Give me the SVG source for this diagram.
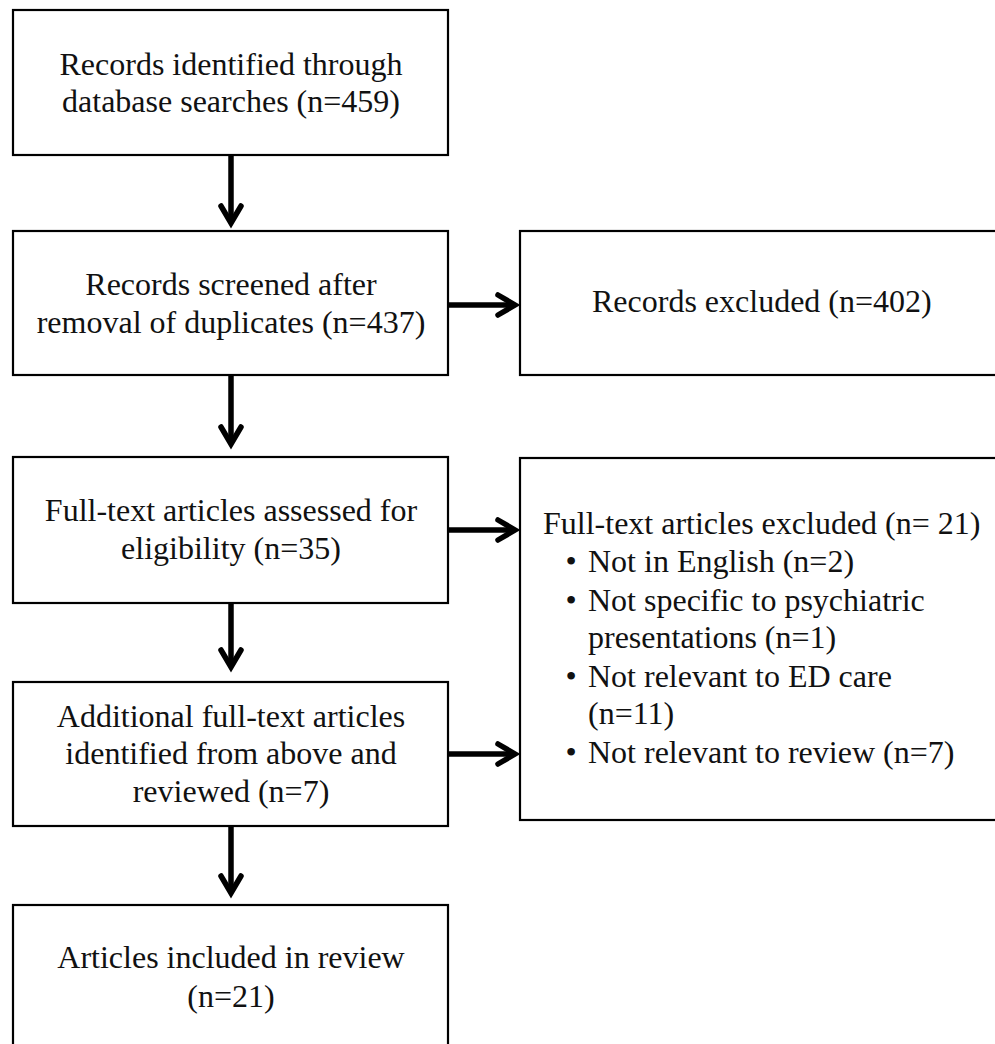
<svg xmlns="http://www.w3.org/2000/svg" width="995" height="1044" viewBox="0 0 995 1044">
  <style>
    .box { fill: #ffffff; stroke: #000000; stroke-width: 2.2; }
    .t { font-family: "Liberation Serif", "Times New Roman", serif; font-size: 32px; fill: #111111; }
    .c { text-anchor: middle; }
    .b { text-anchor: middle; }
    .con { fill: none; stroke: #000000; stroke-width: 5.5; marker-end: url(#chev); }
  </style>
  <defs>
    <marker id="chev" markerUnits="userSpaceOnUse" orient="auto" viewBox="-25 -20 40 40" refX="0" refY="0" markerWidth="40" markerHeight="40" overflow="visible">
      <path d="M-17,-10 L0,0 L-17,10" fill="none" stroke="#000000" stroke-width="5.5" stroke-linecap="round" stroke-linejoin="miter"/>
    </marker>
  </defs>
  <rect width="995" height="1044" fill="#ffffff"/>

  <g id="connectors">
    <line class="con" x1="231" y1="155" x2="231" y2="223"/>
    <line class="con" x1="448" y1="305" x2="515" y2="305"/>
    <line class="con" x1="231" y1="375" x2="231" y2="444"/>
    <line class="con" x1="448" y1="530" x2="515" y2="530"/>
    <line class="con" x1="231" y1="603" x2="231" y2="667"/>
    <line class="con" x1="448" y1="754" x2="515" y2="754"/>
    <line class="con" x1="231" y1="826" x2="231" y2="893"/>
  </g>

  <g id="n1">
    <rect class="box" x="13" y="10" width="435" height="145"/>
    <text class="t c" x="231" y="75">Records identified through</text>
    <text class="t c" x="231" y="112">database searches (n=459)</text>
  </g>

  <g id="n2">
    <rect class="box" x="13" y="231" width="435" height="144"/>
    <text class="t c" x="231" y="295">Records screened after</text>
    <text class="t c" x="231" y="333">removal of duplicates (n=437)</text>
  </g>

  <g id="n3">
    <rect class="box" x="520" y="231" width="500" height="144"/>
    <text class="t" x="592" y="312">Records excluded (n=402)</text>
  </g>

  <g id="n4">
    <rect class="box" x="13" y="457" width="435" height="146"/>
    <text class="t c" x="231" y="521">Full-text articles assessed for</text>
    <text class="t c" x="231" y="559">eligibility (n=35)</text>
  </g>

  <g id="n5">
    <rect class="box" x="520" y="458" width="500" height="362"/>
    <text class="t" x="543" y="534">Full-text articles excluded (n= 21)</text>
    <text class="t b" x="571" y="572">•</text>
    <text class="t" x="588" y="572">Not in English (n=2)</text>
    <text class="t b" x="571" y="611">•</text>
    <text class="t" x="588" y="611">Not specific to psychiatric</text>
    <text class="t" x="588" y="648">presentations (n=1)</text>
    <text class="t b" x="571" y="687">•</text>
    <text class="t" x="588" y="687">Not relevant to ED care</text>
    <text class="t" x="588" y="724">(n=11)</text>
    <text class="t b" x="571" y="763">•</text>
    <text class="t" x="588" y="763">Not relevant to review (n=7)</text>
  </g>

  <g id="n6">
    <rect class="box" x="13" y="682" width="435" height="144"/>
    <text class="t c" x="231" y="727">Additional full-text articles</text>
    <text class="t c" x="231" y="764">identified from above and</text>
    <text class="t c" x="231" y="802">reviewed (n=7)</text>
  </g>

  <g id="n7">
    <rect class="box" x="13" y="905" width="435" height="200"/>
    <text class="t c" x="231" y="968">Articles included in review</text>
    <text class="t c" x="231" y="1007">(n=21)</text>
  </g>
</svg>
